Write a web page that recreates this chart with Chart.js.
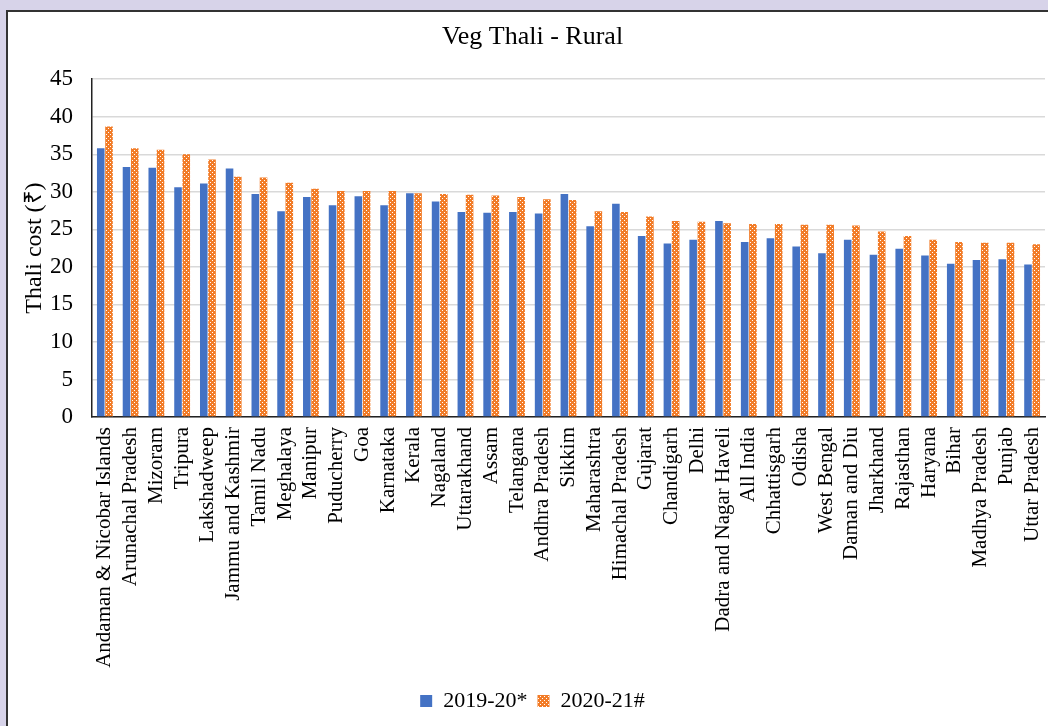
<!DOCTYPE html>
<html>
<head>
<meta charset="utf-8">
<script src="https://cdn.jsdelivr.net/npm/chart.js@4"></script>
<style>
  html, body { margin: 0; padding: 0; }
  body { width: 1048px; height: 726px; background: #d7d3e9; position: relative; overflow: hidden; }
  #frame { position: absolute; left: 6px; top: 10px; width: 1100px; height: 800px; background: #fff; border: 2px solid #333; }
  #wrap { position: absolute; left: 0; top: 0; width: 1048px; height: 726px; }
</style>
</head>
<body>
<div id="frame"></div>
<div id="wrap"><canvas id="myChart" width="1048" height="726"></canvas></div>
<script>
'use strict';
let states = ['Andaman & Nicobar Islands', 'Arunachal Pradesh', 'Mizoram', 'Tripura', 'Lakshadweep', 'Jammu and Kashmir', 'Tamil Nadu', 'Meghalaya', 'Manipur', 'Puducherry', 'Goa', 'Karnataka', 'Kerala', 'Nagaland', 'Uttarakhand', 'Assam', 'Telangana', 'Andhra Pradesh', 'Sikkim', 'Maharashtra', 'Himachal Pradesh', 'Gujarat', 'Chandigarh', 'Delhi', 'Dadra and Nagar Haveli', 'All India', 'Chhattisgarh', 'Odisha', 'West Bengal', 'Daman and Diu', 'Jharkhand', 'Rajasthan', 'Haryana', 'Bihar', 'Madhya Pradesh', 'Punjab', 'Uttar Pradesh'];

let cost1920 = [35.8, 33.3, 33.2, 30.6, 31.1, 33.1, 29.7, 27.4, 29.3, 28.2, 29.4, 28.2, 29.8, 28.7, 27.3, 27.2, 27.3, 27.1, 29.7, 25.4, 28.4, 24.1, 23.1, 23.6, 26.1, 23.3, 23.8, 22.7, 21.8, 23.6, 21.6, 22.4, 21.5, 20.4, 20.9, 21.0, 20.3];
let cost2021 = [38.7, 35.8, 35.6, 35.0, 34.3, 32.0, 31.9, 31.2, 30.4, 30.1, 30.1, 30.1, 29.8, 29.7, 29.6, 29.5, 29.3, 29.0, 28.9, 27.4, 27.3, 26.7, 26.1, 26.0, 25.8, 25.7, 25.7, 25.6, 25.6, 25.5, 24.7, 24.1, 23.6, 23.3, 23.2, 23.2, 23.0];

let seriesNames = ['2019-20*', '2020-21#'];
let yTicks = [0, 5, 10, 15, 20, 25, 30, 35, 40, 45];

// orange dotted pattern like the excel fill
function makePattern() {
  let c = document.createElement('canvas');
  c.width = 4;
  c.height = 4;
  let g = c.getContext('2d');
  g.fillStyle = '#f27c28';
  g.fillRect(0, 0, 4, 4);
  g.fillStyle = '#ffffff';
  g.fillRect(0, 0, 1, 1);
  g.fillRect(2, 2, 1, 1);
  return g.createPattern(c, 'repeat');
}
let orangeFill = makePattern();

let serif = "'Liberation Serif', 'Times New Roman', serif";

var ctx = document.getElementById('myChart').getContext('2d');
var myChart = new Chart(ctx, {
  type: 'bar',
  data: {
    labels: states,
    datasets: [{
      label: seriesNames[0],
      data: cost1920,
      backgroundColor: '#4472c4',
      borderWidth: 0
    }, {
      label: seriesNames[1],
      data: cost2021,
      backgroundColor: orangeFill,
      borderWidth: 0
    }]
  },
  options: {
    responsive: false,
    animation: false,
    categoryPercentage: 0.64,
    barPercentage: 0.92,
    layout: { padding: { left: 20, right: 3, top: 12, bottom: 4 } },
    plugins: {
      title: {
        display: true,
        text: 'Veg Thali - Rural',
        color: '#000',
        font: { family: serif, size: 26, weight: 'normal' },
        padding: { top: 10, bottom: 26 }
      },
      legend: {
        position: 'bottom',
        labels: {
          color: '#000',
          font: { family: serif, size: 22 },
          boxWidth: 12,
          boxHeight: 12,
          padding: 10
        }
      },
      tooltip: { enabled: false }
    },
    scales: {
      x: {
        grid: { display: false },
        border: { display: true, color: '#222', width: 1.5 },
        ticks: {
          color: '#000',
          font: { family: serif, size: 21 },
          minRotation: 90,
          maxRotation: 90,
          autoSkip: false,
          padding: 2
        },
        afterFit: function (scale) {
          scale.height = 263;
          scale.paddingLeft = 0;
          scale.paddingRight = 0;
        }
      },
      y: {
        min: 0,
        max: 45,
        afterBuildTicks: function (scale) {
          scale.ticks = yTicks.map(function (v) { return { value: v }; });
        },
        grid: { color: '#d9d9d9', lineWidth: 1.5, drawTicks: false },
        border: { display: true, color: '#222', width: 1.5 },
        ticks: {
          color: '#000',
          font: { family: serif, size: 23 },
          padding: 19
        },
        title: {
          display: true,
          text: 'Thali cost (₹)',
          color: '#000',
          font: { family: serif, size: 24 },
          padding: { top: 0, bottom: 2 }
        },
        afterFit: function (scale) { scale.width = 72; }
      }
    }
  }
});
</script>
</body>
</html>
